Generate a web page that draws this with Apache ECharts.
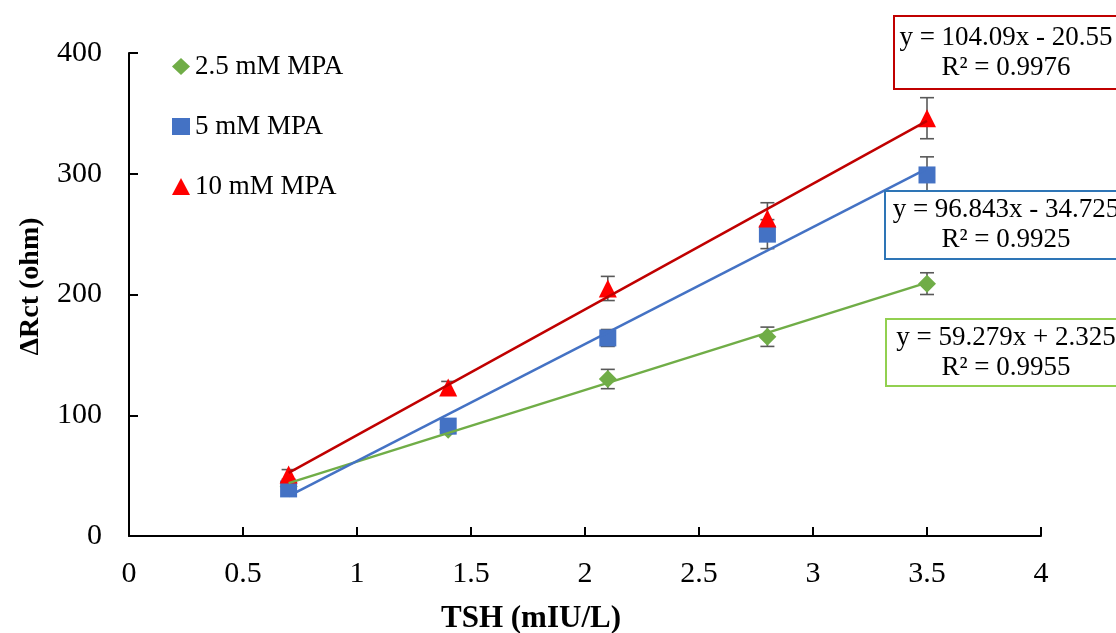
<!DOCTYPE html>
<html><head><meta charset="utf-8">
<script src="https://cdn.jsdelivr.net/npm/echarts@6/dist/echarts.min.js"></script>
<style>html,body{margin:0;padding:0;background:#fff}#c{width:1116px;height:633px}</style>
</head><body><div id="c"></div>
<script>
const xValues = [0.7, 1.4, 2.1, 2.8, 3.5];
const names = ['2.5 mM MPA', '5 mM MPA', '10 mM MPA'];
const y25 = [41, 88, 130, 165, 209];
const e25 = [3, 3, 8, 8, 9];
const y5 = [39, 91, 164, 250, 299];
const e5 = [4, 5, 7, 12, 15];
const y10 = [51, 123, 205, 263, 346];
const e10 = [4, 5, 10, 13, 17];
const slopes = [59.279, 96.843, 104.09];
const intercepts = [2.325, -34.725, -20.55];
const eqTexts = ['y = 59.279x + 2.325\nR² = 0.9955', 'y = 96.843x - 34.725\nR² = 0.9925', 'y = 104.09x - 20.55\nR² = 0.9976'];
const xTicks = [0, 0.5, 1, 1.5, 2, 2.5, 3, 3.5, 4];

const FONT = "'Liberation Serif','Times New Roman',serif";
const markerColors = ['#70AD47', '#4472C4', '#FF0000'];
const lineColors = ['#70AD47', '#4472C4', '#C00000'];
const boxColors = ['#92D050', '#2E75B6', '#C00000'];
const symbols = ['diamond', 'rect', 'triangle'];
const symSizes = [18, 17, 18];
const ys = [y25, y5, y10];
const es = [e25, e5, e10];

function errRender(params, api) {
  const x = api.value(0), y = api.value(1), e = api.value(2);
  const t = api.coord([x, y + e]), b = api.coord([x, y - e]);
  const hw = 7, st = {stroke: '#595959', lineWidth: 1.6};
  return {type: 'group', children: [
    {type: 'line', shape: {x1: t[0], y1: t[1], x2: b[0], y2: b[1]}, style: st},
    {type: 'line', shape: {x1: t[0] - hw, y1: t[1], x2: t[0] + hw, y2: t[1]}, style: st},
    {type: 'line', shape: {x1: b[0] - hw, y1: b[1], x2: b[0] + hw, y2: b[1]}, style: st}
  ]};
}

const series = [];
for (let i = 0; i < 3; i++) {
  series.push({
    name: names[i] + ' err', type: 'custom', renderItem: errRender, z: 2,
    encode: {x: 0, y: 1},
    data: xValues.map((x, k) => [x, ys[i][k], es[i][k]])
  });
}
for (let i = 0; i < 3; i++) {
  series.push({
    name: names[i], type: 'scatter', symbol: symbols[i], symbolSize: symSizes[i], z: 3,
    itemStyle: {color: markerColors[i], opacity: 1},
    data: xValues.map((x, k) => [x, ys[i][k]])
  });
}
for (let i = 0; i < 3; i++) {
  const x0 = xValues[0], x1 = xValues[xValues.length - 1];
  series.push({
    name: names[i] + ' fit', type: 'line', symbol: 'none', z: 4, silent: true,
    lineStyle: {color: lineColors[i], width: 2.5},
    data: [[x0, slopes[i] * x0 + intercepts[i]], [x1, slopes[i] * x1 + intercepts[i]]]
  });
}

const boxes = [
  {x: 885, y: 318, h: 67},
  {x: 884, y: 190, h: 68},
  {x: 893, y: 15, h: 73}
];
const graphic = [];
for (let i = 0; i < 3; i++) {
  const b = boxes[i];
  graphic.push({type: 'rect', left: b.x, top: b.y, z: 10,
    shape: {width: 1116 - b.x + 5, height: b.h},
    style: {fill: '#fff', stroke: boxColors[i], lineWidth: 2}});
  graphic.push({type: 'text', z: 11, x: 1006, y: b.y + b.h / 2 + 1,
    style: {text: eqTexts[i], font: '27px ' + FONT, fill: '#000', align: 'center', verticalAlign: 'middle', lineHeight: 30}});
}

const chart = echarts.init(document.getElementById('c'));
chart.setOption({
  animation: false,
  backgroundColor: '#fff',
  textStyle: {fontFamily: FONT},
  grid: {left: 129, right: 75, top: 53, bottom: 97, containLabel: false, outerBoundsMode: 'none'},
  legend: {
    data: names, orient: 'vertical', left: 167, top: 48, itemGap: 33,
    itemWidth: 18, itemHeight: 17,
    textStyle: {fontFamily: FONT, fontSize: 27, color: '#000'}
  },
  xAxis: {
    type: 'value', min: 0, max: 4, interval: 0.5,
    name: 'TSH (mIU/L)', nameLocation: 'middle', nameGap: 67,
    nameTextStyle: {fontFamily: FONT, fontSize: 31, fontWeight: 'bold', color: '#000', padding: [0, 108, 0, 0]},
    axisLine: {show: true, lineStyle: {color: '#000', width: 2}},
    axisTick: {show: true, inside: true, length: 9, lineStyle: {color: '#000', width: 2}},
    axisLabel: {fontFamily: FONT, fontSize: 30, color: '#000', margin: 23,
      formatter: v => xTicks.includes(v) ? String(v) : ''},
    splitLine: {show: false}
  },
  yAxis: {
    type: 'value', min: 0, max: 400, interval: 100,
    name: 'ΔRct (ohm)', nameLocation: 'middle', nameGap: 84,
    nameTextStyle: {fontFamily: FONT, fontSize: 28, fontWeight: 'bold', color: '#000', padding: [0, 0, 0, 16]},
    axisLine: {show: true, lineStyle: {color: '#000', width: 2}},
    axisTick: {show: true, inside: true, length: 9, lineStyle: {color: '#000', width: 2}},
    axisLabel: {fontFamily: FONT, fontSize: 30, color: '#000', margin: 27},
    splitLine: {show: false}
  },
  series: series,
  graphic: graphic
});
</script></body></html>
